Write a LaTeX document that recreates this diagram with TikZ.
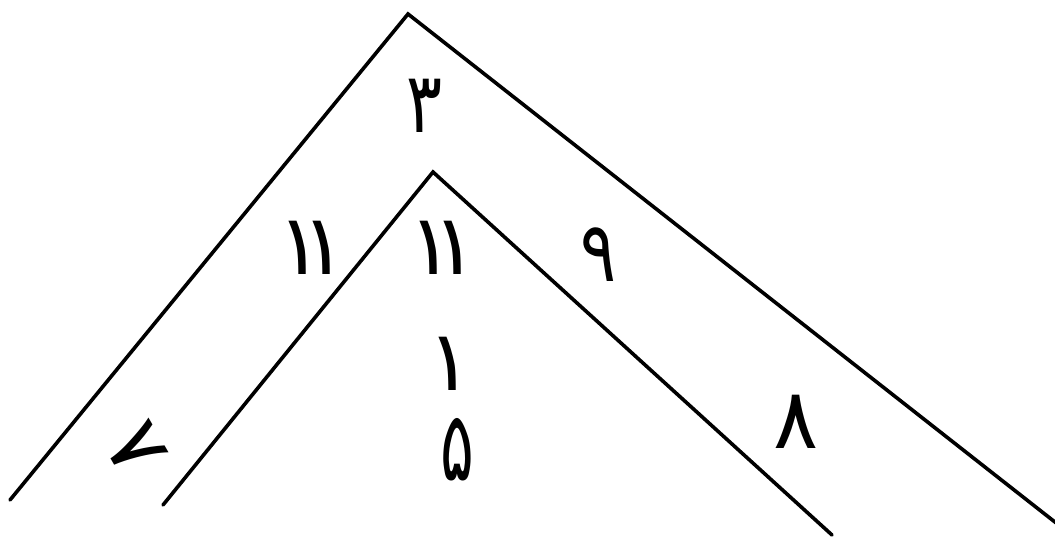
\documentclass[tikz,border=0pt]{standalone}
\usepackage{fontspec}
\newfontfamily\arabicfont[Script=Arabic]{DejaVu Sans}
\TeXXeTstate=1
\begin{document}
\begin{tikzpicture}[x=1pt,y=-1pt,
  edge/.style={line width=3.6pt,line join=miter,line cap=round},
  num/.style={inner sep=0pt,font=\arabicfont\fontsize{84}{84}\selectfont}]
\useasboundingbox (0,0) rectangle (1055,538);
\coordinate (oL) at (10,500);
\coordinate (oT) at (408,14);
\coordinate (oR) at (1060,526);
\coordinate (iL) at (163,505);
\coordinate (iT) at (433,172);
\coordinate (iR) at (832,535);
\draw[edge] (oL) -- (oT) -- (oR);
\draw[edge] (iL) -- (iT) -- (iR);
\node[num,xscale=0.8] (n3) at (425,106) {\beginR ٣\endR};
\node[num] (n11a) at (312,248) {\beginR ١\kern-22pt ١\endR};
\node[num] (n11b) at (443,248) {\beginR ١\kern-22pt ١\endR};
\node[num,xscale=0.8] (n9) at (599,255) {\beginR ٩\endR};
\node[num] (n1) at (450,364) {\beginR ١\endR};
\node[num,xscale=0.75,yscale=1.15] (n5) at (457,450) {\beginR ۵\endR};
\node[num,rotate=-60] (n7) at (136,449) {\beginR ۷\endR};
\node[num] (n8) at (796,422) {\beginR ٨\endR};
\end{tikzpicture}
\end{document}
